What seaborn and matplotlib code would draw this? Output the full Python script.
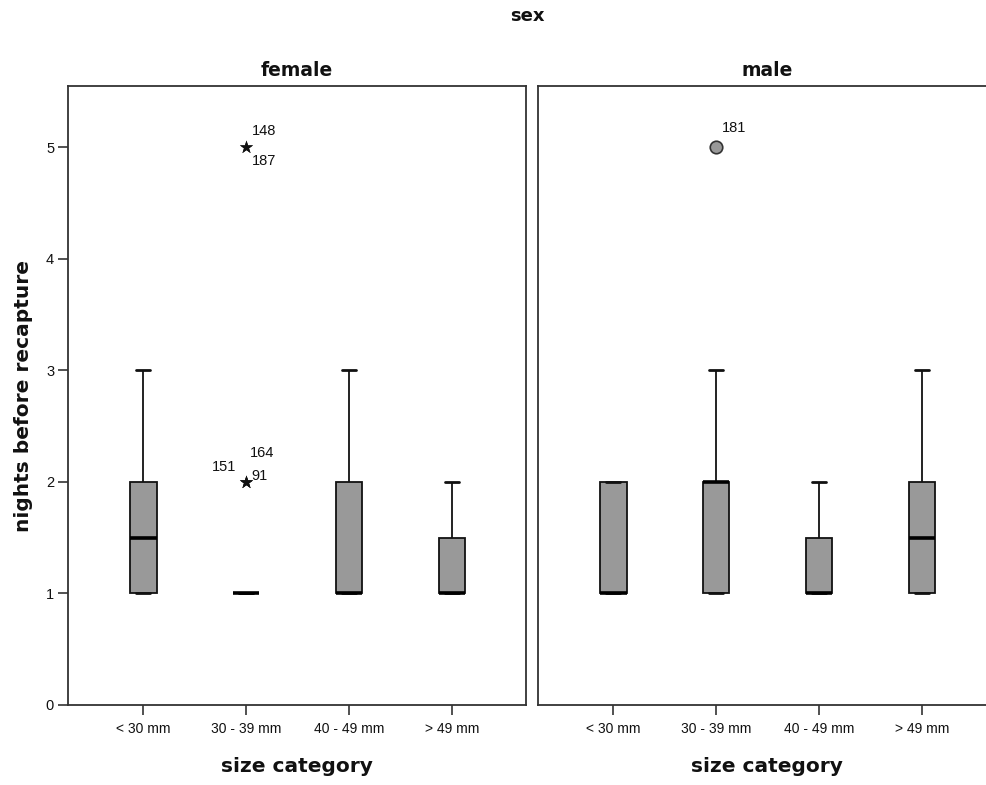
import matplotlib
matplotlib.use("Agg")
import matplotlib.pyplot as plt
import seaborn as sns
import pandas as pd

# ---------------- data ----------------
size_order = ["< 30 mm", "30 - 39 mm", "40 - 49 mm", "> 49 mm"]
sex_order = ["female", "male"]

# nights before recapture per group (raw values)
female_lt30 = [1, 1, 1, 2, 2, 3]
female_30_39 = [1] * 16 + [2, 2, 2, 5, 5]
female_40_49 = [1, 1, 1, 2, 3]
female_gt49 = [1, 1, 1, 1, 1, 2, 2]
male_lt30 = [1, 1, 1, 2, 2]
male_30_39 = [1, 1, 1, 2, 2, 2, 2, 3, 5]
male_40_49 = [1, 1, 1, 1, 1, 2, 2]
male_gt49 = [1, 1, 1, 2, 2, 3]

# labelled outliers
out_sex = ["female", "female", "female", "female", "female", "male"]
out_size = ["30 - 39 mm"] * 6
out_value = [5, 5, 2, 2, 2, 5]
out_case = ["148", "187", "164", "91", "151", "181"]
out_kind = ["extreme", "extreme", "extreme", "extreme", "extreme", "outlier"]

groups = {
    ("female", "< 30 mm"): female_lt30,
    ("female", "30 - 39 mm"): female_30_39,
    ("female", "40 - 49 mm"): female_40_49,
    ("female", "> 49 mm"): female_gt49,
    ("male", "< 30 mm"): male_lt30,
    ("male", "30 - 39 mm"): male_30_39,
    ("male", "40 - 49 mm"): male_40_49,
    ("male", "> 49 mm"): male_gt49,
}
rows = []
for (sx, sz), vals in groups.items():
    for v in vals:
        rows.append({"sex": sx, "size": sz, "nights": v})
df = pd.DataFrame(rows)
odf = pd.DataFrame({"sex": out_sex, "size": out_size, "nights": out_value,
                    "case": out_case, "kind": out_kind})

# label offsets (points) for the case numbers
label_offsets = {
    "148": (4, 12, "left"), "187": (4, -10, "left"),
    "164": (3, 21, "left"), "91": (4, 4, "left"),
    "151": (-7, 11, "right"), "181": (4, 14, "left"),
}

# ---------------- plot ----------------
sns.set_theme(style="white")
plt.rcParams["font.family"] = ["Liberation Sans", "DejaVu Sans"]
plt.rcParams["text.color"] = "#111111"
plt.rcParams["axes.labelcolor"] = "#111111"
plt.rcParams["xtick.color"] = "#111111"
plt.rcParams["ytick.color"] = "#111111"
bold_font = {"family": ["DejaVu Sans"], "weight": "bold"}

fig = plt.figure(figsize=(9.86, 7.85), dpi=100)
W, H = 986, 785
bottom, top = 705, 86
axL = fig.add_axes([68 / W, (H - bottom) / H, 458 / W, (bottom - top) / H])
axR = fig.add_axes([538 / W, (H - bottom) / H, 458 / W, (bottom - top) / H], sharey=axL)

spine_col = "#333333"
for ax, sx in zip([axL, axR], sex_order):
    sub = df[df["sex"] == sx]
    sns.boxplot(data=sub, x="size", y="nights", order=size_order, ax=ax,
                color="#999999", linecolor="#111111", linewidth=1.3, width=0.26,
                showfliers=False, saturation=1,
                medianprops={"linewidth": 2.6, "color": "black"},
                capprops={"linewidth": 2.0})
    osub = odf[odf["sex"] == sx]
    ext = osub[osub["kind"] == "extreme"]
    if len(ext):
        sns.stripplot(data=ext, x="size", y="nights", order=size_order, ax=ax,
                      jitter=False, marker="*", size=10, color="#111111",
                      linewidth=0)
    otl = osub[osub["kind"] == "outlier"]
    if len(otl):
        sns.stripplot(data=otl, x="size", y="nights", order=size_order, ax=ax,
                      jitter=False, marker="o", size=9, color="#999999",
                      edgecolor="#333333", linewidth=1.2)
    for _, r in osub.iterrows():
        dx, dy, ha = label_offsets[r["case"]]
        ax.annotate(r["case"], xy=(size_order.index(r["size"]), r["nights"]),
                    xytext=(dx, dy), textcoords="offset points", ha=ha,
                    va="center", fontsize=10.5, color="#111111")
    ax.set_xlim(-0.73, 3.72)
    ax.set_ylim(0, 5.55)
    ax.set_xlabel("size category", fontsize=14.5, fontdict=bold_font, labelpad=15)
    ax.set_title(sx, fontsize=13.5, fontdict=bold_font, pad=7)
    for s in ax.spines.values():
        s.set_visible(True)
        s.set_color(spine_col)
        s.set_linewidth(1.3)
    ax.tick_params(axis="x", direction="out", length=7, width=1.2,
                   color=spine_col, labelsize=10, pad=5, bottom=True)
    ax.grid(False)

axL.set_ylabel("nights before recapture", fontsize=14.5, fontdict=bold_font, labelpad=9)
axL.set_yticks([0, 1, 2, 3, 4, 5])
axL.tick_params(axis="y", direction="out", length=7, width=1.2, color=spine_col,
                labelsize=10.5, pad=3, left=True)
axR.set_ylabel("")
axR.tick_params(axis="y", left=False, labelleft=False)

fig.text(527 / W, 1 - 16 / H, "sex", ha="center", va="center",
         fontsize=13, fontdict=bold_font)

fig.savefig("out.png", dpi=100)
